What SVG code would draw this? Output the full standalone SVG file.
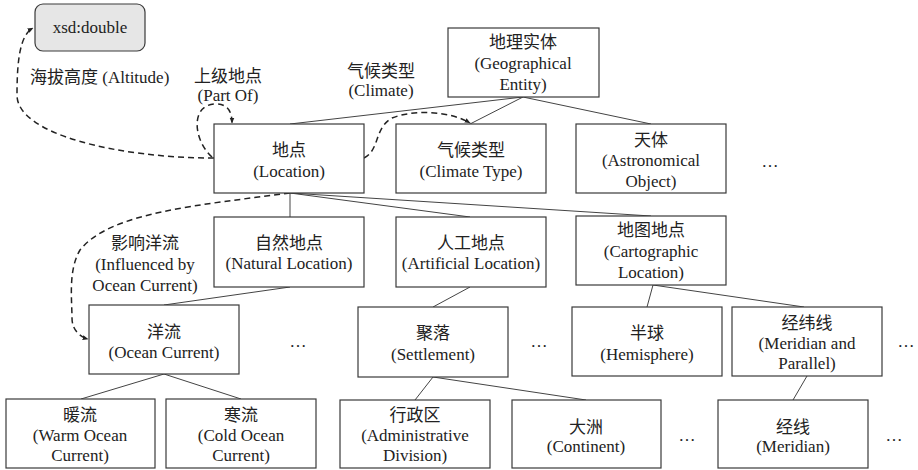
<svg xmlns="http://www.w3.org/2000/svg" width="918" height="470" viewBox="0 0 918 470">
  <defs>
    <marker id="arrow" viewBox="0 0 10 10" refX="9" refY="5" markerWidth="6" markerHeight="6" orient="auto" markerUnits="userSpaceOnUse">
      <path d="M0,1 L10,5 L0,9 z" fill="#222"/>
    </marker>
    <style>
      .box { fill: #fff; stroke: #3a3a3a; stroke-width: 1.2; }
      .lit { fill: #e6e6e6; stroke: #3a3a3a; stroke-width: 1.2; }
      text { font-family: "Liberation Serif", "Noto Sans CJK SC", serif; font-size: 17px; fill: #222; }
      .t { text-anchor: middle; }
      .edge { stroke: #444; stroke-width: 1; fill: none; }
      .dash { stroke: #222; stroke-width: 1.5; fill: none; stroke-dasharray: 6 4; marker-end: url(#arrow); }
    </style>
  </defs>
  <rect width="918" height="470" fill="#fff"/>

  <!-- hierarchy links (solid) and property links (dashed) -->
  <g id="connectors">
    <path class="edge" d="M523,97 L290,124 M523,97 L470,124 M523,97 L651,124"/>
    <path class="edge" d="M290,193 L290,217 M290,193 L470,217 M290,193 L651,216"/>
    <path class="edge" d="M290,287 L164,305 M470,287 L433,307"/>
    <path class="edge" d="M653,285 L647,307 M653,285 L804,307"/>
    <path class="edge" d="M164,374 L81,399 M164,374 L241,399"/>
    <path class="edge" d="M433,377 L415,400 M433,377 L586,400"/>
    <path class="edge" d="M807,376 L793,400"/>
    <path class="dash" d="M214,158 C120,158 17,135 17,95 C17,60 20,35 33,28"/>
    <path class="dash" d="M212,157 C193,140 190,104 216,104 C228,104 232,112 232,123"/>
    <path class="dash" d="M364,158 C380,150 374,128 392,118 C412,110 448,110 470,123"/>
    <path class="dash" d="M290,193 C200,205 110,212 80,250 C68,270 72,300 72,318 C72,330 80,337 88,339"/>
    <text x="30" y="83">海拔高度 (Altitude)</text>
    <text class="t" x="228" y="82">上级地点</text>
    <text class="t" x="228" y="101">(Part Of)</text>
    <text class="t" x="381" y="77">气候类型</text>
    <text class="t" x="381" y="96">(Climate)</text>
    <text class="t" x="145" y="249">影响洋流</text>
    <text class="t" x="145" y="270">(Influenced by</text>
    <text class="t" x="145" y="291">Ocean Current)</text>
  </g>

  <g id="xsd-double">
    <rect class="lit" x="35" y="4" width="110" height="47" rx="8"/>
    <text class="t" x="90" y="33">xsd:double</text>
  </g>
  <g id="geo-entity">
    <rect class="box" x="448" y="28" width="151" height="69"/>
    <text class="t" x="523" y="48">地理实体</text>
    <text class="t" x="523" y="69">(Geographical</text>
    <text class="t" x="523" y="90">Entity)</text>
  </g>
  <g id="location">
    <rect class="box" x="214" y="124" width="150" height="69"/>
    <text class="t" x="289" y="156">地点</text>
    <text class="t" x="289" y="177">(Location)</text>
  </g>
  <g id="climate-type">
    <rect class="box" x="396" y="124" width="150" height="69"/>
    <text class="t" x="471" y="156">气候类型</text>
    <text class="t" x="471" y="177">(Climate Type)</text>
  </g>
  <g id="astronomical-object">
    <rect class="box" x="576" y="124" width="150" height="69"/>
    <text class="t" x="651" y="146">天体</text>
    <text class="t" x="651" y="166">(Astronomical</text>
    <text class="t" x="651" y="187">Object)</text>
  </g>
  <g id="natural-location">
    <rect class="box" x="214" y="217" width="150" height="70"/>
    <text class="t" x="289" y="249">自然地点</text>
    <text class="t" x="289" y="269">(Natural Location)</text>
  </g>
  <g id="artificial-location">
    <rect class="box" x="396" y="217" width="150" height="70"/>
    <text class="t" x="471" y="249">人工地点</text>
    <text class="t" x="471" y="269">(Artificial Location)</text>
  </g>
  <g id="cartographic-location">
    <rect class="box" x="576" y="216" width="150" height="69"/>
    <text class="t" x="651" y="236">地图地点</text>
    <text class="t" x="651" y="257">(Cartographic</text>
    <text class="t" x="651" y="278">Location)</text>
  </g>
  <g id="ocean-current">
    <rect class="box" x="89" y="305" width="150" height="69"/>
    <text class="t" x="164" y="338">洋流</text>
    <text class="t" x="164" y="358">(Ocean Current)</text>
  </g>
  <g id="settlement">
    <rect class="box" x="358" y="307" width="150" height="70"/>
    <text class="t" x="433" y="339">聚落</text>
    <text class="t" x="433" y="360">(Settlement)</text>
  </g>
  <g id="hemisphere">
    <rect class="box" x="572" y="307" width="150" height="69"/>
    <text class="t" x="647" y="339">半球</text>
    <text class="t" x="647" y="360">(Hemisphere)</text>
  </g>
  <g id="meridian-parallel">
    <rect class="box" x="732" y="307" width="150" height="69"/>
    <text class="t" x="807" y="329">经纬线</text>
    <text class="t" x="807" y="349">(Meridian and</text>
    <text class="t" x="807" y="369">Parallel)</text>
  </g>
  <g id="warm-current">
    <rect class="box" x="6" y="399" width="149" height="69"/>
    <text class="t" x="80" y="421">暖流</text>
    <text class="t" x="80" y="441">(Warm Ocean</text>
    <text class="t" x="80" y="461">Current)</text>
  </g>
  <g id="cold-current">
    <rect class="box" x="166" y="399" width="150" height="69"/>
    <text class="t" x="241" y="421">寒流</text>
    <text class="t" x="241" y="441">(Cold Ocean</text>
    <text class="t" x="241" y="461">Current)</text>
  </g>
  <g id="admin-division">
    <rect class="box" x="340" y="400" width="150" height="68"/>
    <text class="t" x="415" y="421">行政区</text>
    <text class="t" x="415" y="441">(Administrative</text>
    <text class="t" x="415" y="461">Division)</text>
  </g>
  <g id="continent">
    <rect class="box" x="512" y="400" width="149" height="68"/>
    <text class="t" x="586" y="433">大洲</text>
    <text class="t" x="586" y="452">(Continent)</text>
  </g>
  <g id="meridian">
    <rect class="box" x="718" y="400" width="150" height="68"/>
    <text class="t" x="793" y="433">经线</text>
    <text class="t" x="793" y="452">(Meridian)</text>
  </g>

  <g id="ellipses">
    <text class="t" x="770" y="167">…</text>
    <text class="t" x="298" y="347">…</text>
    <text class="t" x="539" y="347">…</text>
    <text class="t" x="906" y="347">…</text>
    <text class="t" x="687" y="441">…</text>
    <text class="t" x="894" y="441">…</text>
  </g>
</svg>
